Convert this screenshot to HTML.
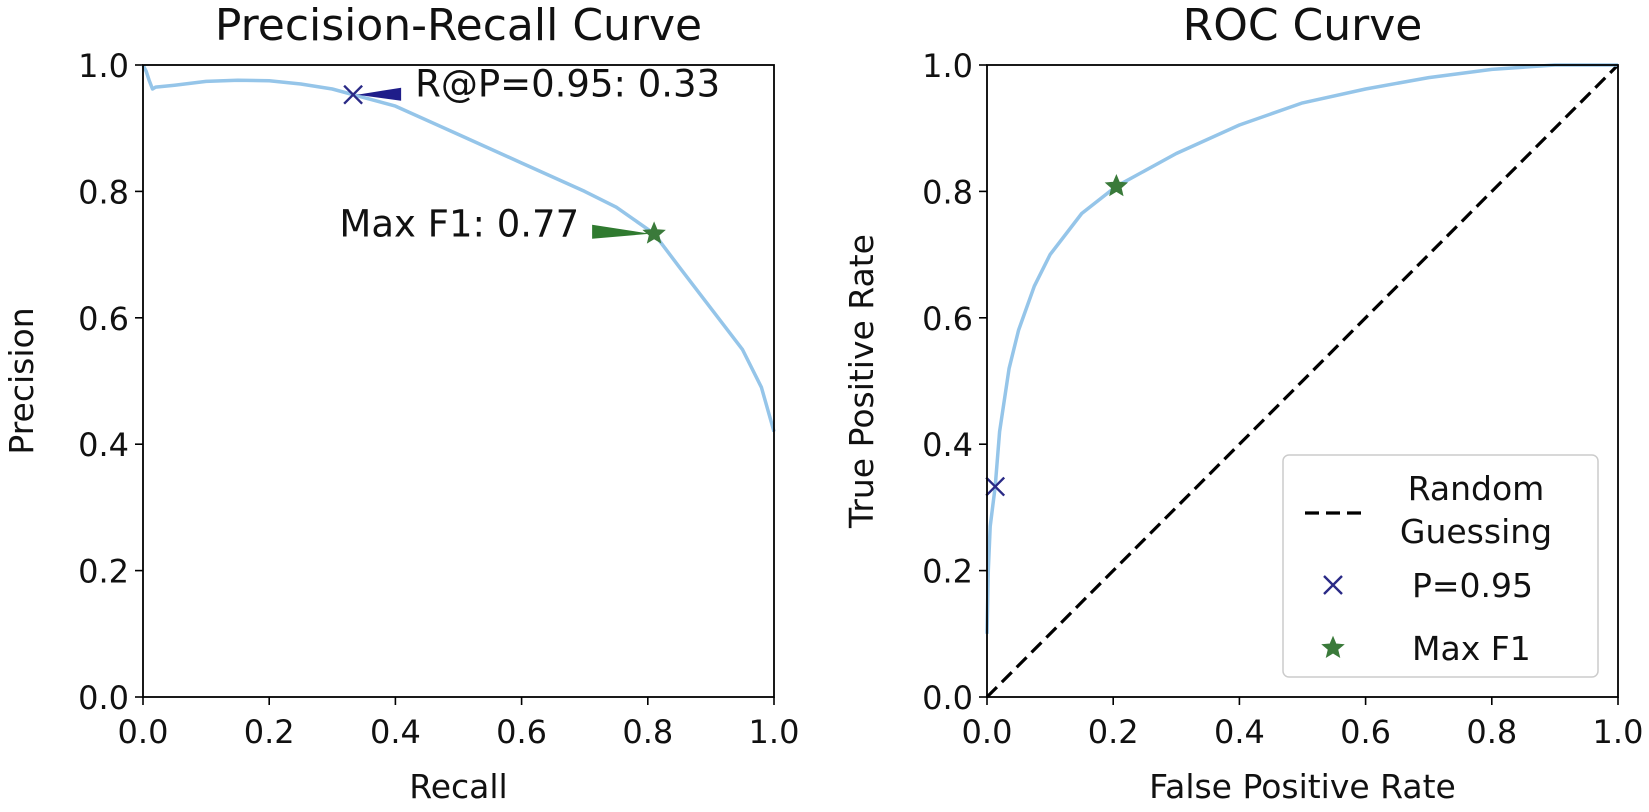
<!DOCTYPE html>
<html><head><meta charset="utf-8"><style>
body{margin:0;background:#fff}
svg{display:block;font-family:"DejaVu Sans","Liberation Sans",sans-serif}
</style></head><body>
<svg id="fig" width="1649" height="812" viewBox="0 0 1649 812" xmlns="http://www.w3.org/2000/svg">
<g id="pr"></g>
<g id="roc"></g>
</svg>
<script>
const prRecall    = [0, 0.005, 0.01, 0.015, 0.02, 0.05, 0.1, 0.15, 0.2, 0.25, 0.3, 0.333, 0.4, 0.5, 0.6, 0.7, 0.75, 0.81, 0.85, 0.9, 0.95, 0.98, 1.0];
const prPrecision = [1.0, 0.99, 0.975, 0.962, 0.965, 0.968, 0.974, 0.976, 0.975, 0.97, 0.962, 0.953, 0.935, 0.89, 0.845, 0.8, 0.775, 0.733, 0.68, 0.615, 0.55, 0.49, 0.42];
const rocFpr = [0, 0.002, 0.005, 0.013, 0.02, 0.035, 0.05, 0.075, 0.1, 0.15, 0.205, 0.3, 0.4, 0.5, 0.6, 0.7, 0.8, 0.9, 1.0];
const rocTpr = [0.1, 0.2, 0.27, 0.333, 0.42, 0.52, 0.58, 0.65, 0.7, 0.765, 0.808, 0.86, 0.905, 0.94, 0.962, 0.98, 0.993, 1.0, 1.0];
const tickVals = [0, 0.2, 0.4, 0.6, 0.8, 1.0];
const tickLabels = ["0.0", "0.2", "0.4", "0.6", "0.8", "1.0"];
const prOpPoint = [0.333, 0.953];
const prF1Point = [0.81, 0.733];
const rocOpPoint = [0.013, 0.333];
const rocF1Point = [0.205, 0.808];

const NS = "http://www.w3.org/2000/svg";
function mk(parent, tag, attrs, text){
  const e = document.createElementNS(NS, tag);
  for (const k in attrs) e.setAttribute(k, attrs[k]);
  if (text !== undefined) e.textContent = text;
  parent.appendChild(e); return e;
}
const TOPY = 65, BOTY = 697, PH = BOTY - TOPY;
const TICKFS = 32, LABFS = 33, TITLEFS = 44, ANNFS = 37;
function axes(g, x0, x1, title, xlab, ylab, ylabX){
  const W = x1 - x0;
  const X = v => x0 + v*W, Y = v => BOTY - v*PH;
  tickVals.forEach((v,i)=>{
    let t = mk(g,"line",{x1:X(v),x2:X(v),y1:BOTY,y2:BOTY+8,stroke:"#000","stroke-width":1.6});
    
    
    let l = mk(g,"text",{x:X(v),y:BOTY+46,"font-size":TICKFS,"text-anchor":"middle",fill:"#111"},tickLabels[i]);
    
    
    let t2 = mk(g,"line",{x1:x0-8,x2:x0,y1:Y(v),y2:Y(v),stroke:"#000","stroke-width":1.6});
    
    
    let l2 = mk(g,"text",{x:x0-14,y:Y(v)+12,"font-size":TICKFS,"text-anchor":"end",fill:"#111"},tickLabels[i]);
    
    
  });
  let tt = mk(g,"text",{x:(x0+x1)/2,y:40,"font-size":TITLEFS,"text-anchor":"middle",fill:"#111"},title);
  
  
  let xl = mk(g,"text",{x:(x0+x1)/2,y:798,"font-size":LABFS,"text-anchor":"middle",fill:"#111"},xlab);
  
  
  let yl = mk(g,"text",{x:0,y:0,"font-size":LABFS,"text-anchor":"middle",fill:"#111",transform:`translate(${ylabX},${(TOPY+BOTY)/2}) rotate(-90)`},ylab);
  
  
  return {X,Y,frame(){
    let r = mk(g,"rect",{x:x0,y:TOPY,width:W,height:PH,fill:"none",stroke:"#000","stroke-width":1.8});
    
    
  }};
}
function poly(X,Y,xs,ys){ return xs.map((v,i)=>`${X(v).toFixed(1)},${Y(ys[i]).toFixed(1)}`).join(" "); }
function xMark(g,cx,cy,col){
  const s=9;
  let m = mk(g,"path",{d:`M${cx-s},${cy-s}L${cx+s},${cy+s}M${cx-s},${cy+s}L${cx+s},${cy-s}`,stroke:col,"stroke-width":2.4,fill:"none"});
  
  
}
function star(g,cx,cy,r,col){
  let d="";
  for(let i=0;i<10;i++){const a=-Math.PI/2+i*Math.PI/5;const rr=i%2?r*0.45:r;d+=(i?"L":"M")+(cx+rr*Math.cos(a)).toFixed(1)+","+(cy+rr*Math.sin(a)).toFixed(1);}
  let m = mk(g,"path",{d:d+"Z",fill:col,stroke:col,"stroke-width":1});
  
  
}
const gp = document.getElementById("pr");
const A = axes(gp,143,774,"Precision-Recall Curve","Recall","Precision",33);
let c1 = mk(gp,"polyline",{points:poly(A.X,A.Y,prRecall,prPrecision),fill:"none",stroke:"#95c5e9","stroke-width":3.5,"stroke-linejoin":"round"});


{
  const px=A.X(prOpPoint[0]), py=A.Y(prOpPoint[1]);
  let w = mk(gp,"path",{d:`M${px+4},${py} L${px+48},${py-7} L${px+48},${py+6} Z`,fill:"#1f1d8a"});
  
  
  xMark(gp,px,py,"#2a2a86");
  let t = mk(gp,"text",{x:px+62,y:py+2,"font-size":ANNFS,fill:"#111"},"R@P=0.95: 0.33");
  
  
  const fx=A.X(prF1Point[0]), fy=A.Y(prF1Point[1]);
  let w2 = mk(gp,"path",{d:`M${fx-4},${fy} L${fx-62},${fy-9} L${fx-62},${fy+5} Z`,fill:"#2f7a2f"});
  
  
  star(gp,fx,fy,11,"#3a7a3a");
  let t2 = mk(gp,"text",{x:fx-75,y:fy+3,"font-size":ANNFS,fill:"#111","text-anchor":"end"},"Max F1: 0.77");
  
  
}
A.frame();
const gr = document.getElementById("roc");
const R = axes(gr,987,1618,"ROC Curve","False Positive Rate","True Positive Rate",873);
let dl = mk(gr,"line",{x1:R.X(0),y1:R.Y(0),x2:R.X(1),y2:R.Y(1),stroke:"#000","stroke-width":3.2,"stroke-dasharray":"14,7"});


let c2 = mk(gr,"polyline",{points:poly(R.X,R.Y,rocFpr,rocTpr),fill:"none",stroke:"#95c5e9","stroke-width":3.5,"stroke-linejoin":"round"});


xMark(gr,R.X(rocOpPoint[0]),R.Y(rocOpPoint[1]),"#2a2a86");
star(gr,R.X(rocF1Point[0]),R.Y(rocF1Point[1]),11,"#3a7a3a");
R.frame();
const lg = mk(gr,"g",{});


let lb = mk(lg,"rect",{x:1283,y:455,width:315,height:222,rx:6,fill:"#fff","fill-opacity":0.85,stroke:"#ccc","stroke-width":1.5});


let le1 = mk(lg,"line",{x1:1305,x2:1365,y1:513,y2:513,stroke:"#000","stroke-width":3.2,"stroke-dasharray":"14,7"});


let lt1 = mk(lg,"text",{x:1476,y:500,"font-size":LABFS,"text-anchor":"middle",fill:"#111"},"Random");


let lt1b = mk(lg,"text",{x:1476,y:543,"font-size":LABFS,"text-anchor":"middle",fill:"#111"},"Guessing");


xMark(lg,1333,585,"#2a2a86");
let lt2 = mk(lg,"text",{x:1412,y:597,"font-size":LABFS,fill:"#111"},"P=0.95");


star(lg,1333,648,11,"#3a7a3a");
let lt3 = mk(lg,"text",{x:1412,y:660,"font-size":LABFS,fill:"#111"},"Max F1");


</script>
</body></html>
